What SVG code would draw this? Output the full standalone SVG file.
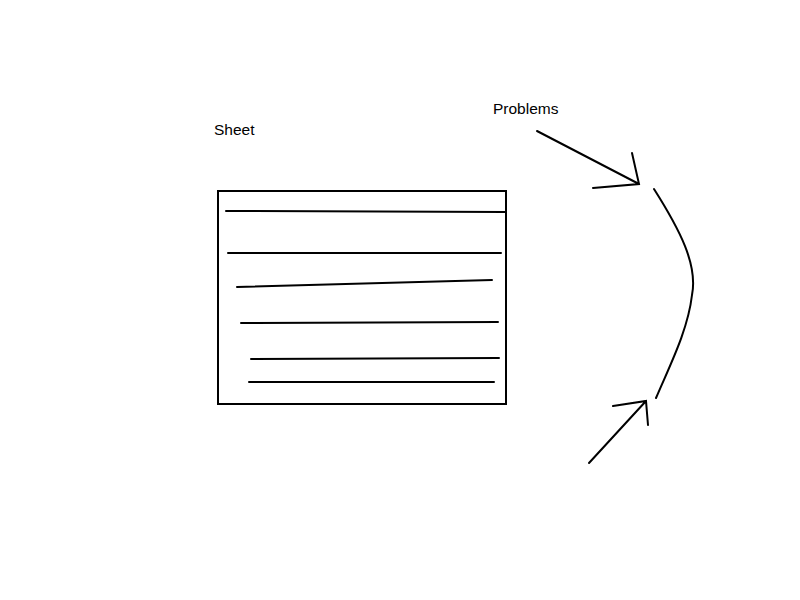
<svg xmlns="http://www.w3.org/2000/svg" width="800" height="600" viewBox="0 0 800 600">
<style>
.s{fill:none;stroke:#000;stroke-width:2;stroke-linecap:round}
.t{font-family:"Liberation Sans",Arial,sans-serif;font-size:15.5px;fill:#000}
</style>
<rect width="800" height="600" fill="#fff"/>
<g id="sheet">
<rect x="218" y="191" width="288" height="213" class="s"/>
<path class="s" d="M226 211L505 212M228 253L501 253M237 287L492 280M241 323L498 322M251 359L499 358M249 382L494 382"/>
<text class="t" x="214" y="135">Sheet</text>
</g>
<g id="problems">
<text class="t" x="493" y="114">Problems</text>
<path class="s" d="M654 189C680 230 698 265 692 295C688 330 670 365 656 398"/>
</g>
<g id="connectors">
<path class="s" d="M537 131L639 184M593 188L639 184L632 153"/>
<path class="s" d="M589 463L646 401M613 406L646 401L648 425"/>
</g>
</svg>
